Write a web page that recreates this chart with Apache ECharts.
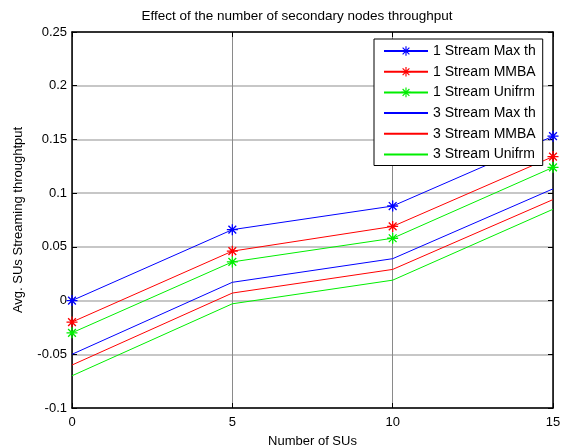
<!DOCTYPE html>
<html><head><meta charset="utf-8">
<script src="https://cdn.jsdelivr.net/npm/echarts@6/dist/echarts.min.js"></script>
<style>html,body{margin:0;padding:0;background:#fff}#c{width:564px;height:447px}</style>
</head><body><div id="c"></div>
<script>
const xValues = [0, 5, 10, 15];
const s1Max = [0, 0.066, 0.088, 0.153];
const s1MMBA = [-0.02, 0.046, 0.069, 0.134];
const s1Uni = [-0.03, 0.036, 0.058, 0.124];
const s3Max = [-0.05, 0.017, 0.039, 0.104];
const s3MMBA = [-0.06, 0.007, 0.029, 0.094];
const s3Uni = [-0.07, -0.003, 0.019, 0.085];
const names = ['1 Stream Max th','1 Stream MMBA','1 Stream Unifrm','3 Stream Max th','3 Stream MMBA','3 Stream Unifrm'];

const star = 'path://M-0.6,-5L0.6,-5L0.6,5L-0.6,5Z M-5,-0.6L5,-0.6L5,0.6L-5,0.6Z M-3.96,-3.1L-3.1,-3.96L3.96,3.1L3.1,3.96Z M3.1,-3.96L3.96,-3.1L-3.1,3.96L-3.96,3.1Z';
function pts(a){return xValues.map((x,i)=>[x,a[i]]);}
const font = 'Liberation Sans, Arial, sans-serif';
function ser(name, data, color, marker){
  return {name, type:'line', data:pts(data), clip:false,
    symbol: marker ? star : 'none', symbolSize: 11, showSymbol: marker,
    itemStyle:{color}, lineStyle:{color, width:1}, animation:false};
}
const chart = echarts.init(document.getElementById('c'));
chart.setOption({
  animation:false,
  title:{text:'Effect of the number of secondary nodes throughput', left:292, textAlign:'center', top:4,
    textStyle:{fontFamily:font, fontSize:13.5, fontWeight:'normal', color:'#000'}},
  grid:{left:72, right:11, top:32, bottom:39, outerBoundsMode:'none', containLabel:false},
  legend:{orient:'vertical', left:374, top:39, itemWidth:44, itemHeight:12, itemGap:6.7, itemSpacing:6,
    backgroundColor:'#fff', borderColor:'#000', borderWidth:1, padding:[5,7,4,9],
    textStyle:{fontFamily:font, fontSize:14, color:'#000'},
    data:names.map((n,i)=> i<3 ? {name:n} : {name:n, itemStyle:{opacity:0}})},
  xAxis:[{type:'value', min:0, max:15, interval:5, name:'Number of SUs', nameLocation:'middle', nameGap:27,
    nameTextStyle:{fontFamily:font, fontSize:13, color:'#000'},
    axisLine:{onZero:false, lineStyle:{color:'#000', width:1.5}},
    axisTick:{inside:true, length:5, lineStyle:{color:'#000'}},
    axisLabel:{fontFamily:font, fontSize:13, color:'#000', margin:8},
    splitLine:{show:true, lineStyle:{color:'#8a8a8a', width:1}}},
    {type:'value', position:'top', min:0, max:15, interval:5,
    axisLine:{onZero:false, lineStyle:{color:'#000', width:1.5}}, axisTick:{inside:true, length:5, lineStyle:{color:'#000'}},
    axisLabel:{show:false}, splitLine:{show:false}}],
  yAxis:[{type:'value', min:-0.1, max:0.25, interval:0.05, name:'Avg. SUs Streaming throughtput',
    nameLocation:'middle', nameGap:47, nameTextStyle:{fontFamily:font, fontSize:13, color:'#000'},
    axisLine:{show:true, onZero:false, lineStyle:{color:'#000', width:1.5}},
    axisTick:{show:true, inside:true, length:5, lineStyle:{color:'#000'}},
    axisLabel:{fontFamily:font, fontSize:13, color:'#000', margin:5,
      formatter:v=>String(Math.round(v*100)/100)},
    splitLine:{show:true, lineStyle:{color:'#b4b4b4', width:1.5}}},
    {type:'value', position:'right', min:-0.1, max:0.25, interval:0.05,
    axisLine:{show:true, onZero:false, lineStyle:{color:'#000', width:1.5}}, axisTick:{show:true, inside:true, length:5, lineStyle:{color:'#000'}},
    axisLabel:{show:false}, splitLine:{show:false}}],
  series:[
    ser(names[0], s1Max, '#0000ff', true),
    ser(names[1], s1MMBA, '#ff0000', true),
    ser(names[2], s1Uni, '#00ee00', true),
    ser(names[3], s3Max, '#0000ff', false),
    ser(names[4], s3MMBA, '#ff0000', false),
    ser(names[5], s3Uni, '#00ee00', false)
  ]
});
</script></body></html>
